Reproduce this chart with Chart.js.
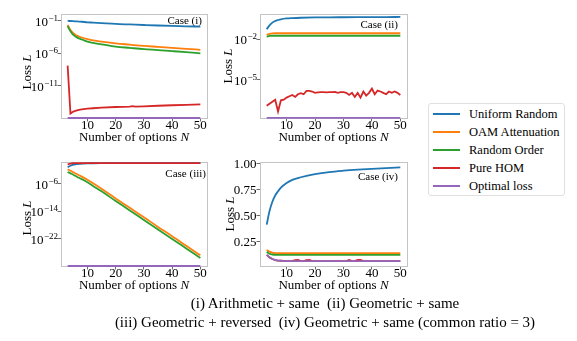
<!DOCTYPE html>
<html>
<head>
<meta charset="utf-8">
<script src="https://cdn.jsdelivr.net/npm/chart.js@4.4.0/dist/chart.umd.min.js"></script>
<style>
  body { margin: 0; background: #fff; width: 577px; height: 341px; position: relative; overflow: hidden;
         font-family: "Liberation Serif", "Times New Roman", serif; color: #000; }
  canvas { position: absolute; }
  #legend { position: absolute; left: 428px; top: 103px; width: 137px; height: 93px; box-sizing: border-box;
            border: 1px solid #e0e0e0; border-radius: 3px; padding-top: 1px; }
  #legend .item { height: 18px; line-height: 18px; font-size: 12.5px; white-space: nowrap; position: relative; padding-left: 40px; }
  #legend .sw { position: absolute; left: 4px; top: 8px; width: 27px; height: 2px; }
  #caption { position: absolute; left: 0; width: 650px; top: 294px; text-align: center; font-size: 15px; line-height: 19px; }
</style>
</head>
<body>
<canvas id="c1" width="215" height="150" style="left:0;top:0"></canvas>
<canvas id="c2" width="215" height="150" style="left:205px;top:0"></canvas>
<canvas id="c3" width="215" height="150" style="left:0;top:148px"></canvas>
<canvas id="c4" width="215" height="150" style="left:205px;top:148px"></canvas>
<div id="legend"></div>
<div id="caption">(i) Arithmetic + same&nbsp; (ii) Geometric + same<br>(iii) Geometric + reversed&nbsp; (iv) Geometric + same (common ratio = 3)</div>
<script>
// series
const seriesNames = ["Uniform Random", "OAM Attenuation", "Random Order", "Pure HOM", "Optimal loss"];
const seriesColors = ["#1f77b4", "#ff7f0e", "#2ca02c", "#d62728", "#9467bd"];
const xTicks = [10, 20, 30, 40, 50];

// number of options N
const nSmooth = [3, 4, 5, 6, 7, 8, 10, 12, 15, 20, 25, 30, 35, 40, 45, 50];
const nEnds = [3, 50];
const nAll = [3, 4, 5, 6, 7, 8, 9, 10, 11, 12, 13, 14, 15, 16, 17, 18, 19, 20, 21, 22, 23, 24, 25, 26,
  27, 28, 29, 30, 31, 32, 33, 34, 35, 36, 37, 38, 39, 40, 41, 42, 43, 44, 45, 46, 47, 48, 49, 50];

// Case (i)
const uniformI = [1.12e-1, 1.0e-1, 9.3e-2, 8.7e-2, 8.1e-2, 7.6e-2, 6.3e-2, 5.6e-2, 4.7e-2, 3.5e-2, 2.9e-2, 2.4e-2, 2.0e-2, 1.7e-2, 1.5e-2, 1.35e-2];
const oamI = [2.4e-2, 4e-3, 1.26e-3, 6.3e-4, 4e-4, 2.8e-4, 1.6e-4, 1e-4, 6.3e-5, 3.5e-5, 2.2e-5, 1.4e-5, 1e-5, 7e-6, 5e-6, 3.5e-6];
const randI = [1.7e-2, 2.5e-3, 7e-4, 3.5e-4, 2e-4, 1.4e-4, 6.3e-5, 4e-5, 2.5e-5, 1.1e-5, 7e-6, 4.5e-6, 3.2e-6, 2.2e-6, 1.5e-6, 1e-6];
const nHomI = [3, 4, 5, 6, 7, 8, 10, 12, 15, 20, 25, 26, 27, 30, 35, 40, 45, 50];
const homI = [1.26e-8, 5e-16, 1e-15, 1.4e-15, 1.8e-15, 2.2e-15, 2.8e-15, 3.2e-15, 4e-15, 5e-15, 5.6e-15, 7e-15, 5.8e-15, 6.3e-15, 7.9e-15, 9.3e-15, 1.1e-14, 1.26e-14];
const optI = [1e-16, 1e-16];

// Case (ii)
const uniformII = [5.5e-2, 1.05e-1, 1.66e-1, 2.2e-1, 2.6e-1, 2.95e-1, 3.4e-1, 3.6e-1, 3.8e-1, 4.0e-1, 4.1e-1, 4.15e-1, 4.2e-1, 4.25e-1, 4.3e-1, 4.35e-1];
const oamII = [2.1e-2, 2.5e-2, 2.7e-2, 2.75e-2, 2.75e-2, 2.75e-2, 2.75e-2, 2.75e-2, 2.75e-2, 2.75e-2, 2.75e-2, 2.75e-2, 2.75e-2, 2.75e-2, 2.75e-2, 2.75e-2];
const randII = [1.55e-2, 1.75e-2, 1.8e-2, 1.8e-2, 1.8e-2, 1.8e-2, 1.8e-2, 1.8e-2, 1.8e-2, 1.8e-2, 1.8e-2, 1.8e-2, 1.8e-2, 1.8e-2, 1.8e-2, 1.8e-2];
const homII = [1.26e-7, 1.78e-7, 2.5e-7, 3.5e-7, 4.8e-8, 3.2e-7, 3.5e-7, 5e-7, 6.3e-7, 7.9e-7, 5.6e-7, 8.9e-7,
  1.07e-6, 8.9e-7, 1.58e-6, 1.58e-6, 1.41e-6, 1.12e-6, 1.2e-6, 1.26e-6, 1.26e-6, 1.2e-6, 1.26e-6, 1.26e-6,
  1.32e-6, 1.12e-6, 1.26e-6, 1.26e-6, 1.12e-6, 7.9e-7, 1.12e-6, 5.6e-7, 1.12e-6, 5e-7, 1.41e-6, 7.1e-7,
  1.12e-6, 2.3e-6, 8.9e-7, 1.66e-6, 1.41e-6, 1.12e-6, 8.9e-7, 1.41e-6, 1.12e-6, 1.41e-6, 1.12e-6, 7.9e-7];
const optII = [1.6e-8, 1.6e-8];

// Case (iii)
const uniformIII = [6.3e-2, 0.16, 0.32, 0.45, 0.55, 0.63, 0.8, 0.86, 0.9, 0.93, 0.95, 0.95, 0.96, 0.96, 0.96, 0.96];
const oamIII = [1.45e-2, 5.6e-3, 2e-3, 7.9e-4, 2.8e-4, 1.1e-4, 1.4e-5, 1.26e-6, 3.2e-8, 5e-11, 8.9e-14, 1.6e-16, 2.5e-19, 5e-22, 7.9e-25, 1.26e-27];
const randIII = [2.5e-3, 1e-3, 4e-4, 1.4e-4, 5e-5, 2e-5, 2.5e-6, 2.2e-7, 5.6e-9, 8.9e-12, 1.6e-14, 2.5e-17, 4e-20, 7.9e-23, 1.26e-25, 2e-28];
const homIII = [0.4, 0.7, 0.9, 0.97, 0.99, 1, 1, 1, 1, 1, 1, 1, 1, 1, 1, 1];
const optIII = [1e-30, 1e-30];

// Case (iv)
const uniformIV = [0.41, 0.54, 0.63, 0.69, 0.73, 0.765, 0.81, 0.84, 0.865, 0.895, 0.915, 0.928, 0.938, 0.946, 0.953, 0.96];
const oamIV = [0.166, 0.15, 0.14, 0.137, 0.135, 0.135, 0.135, 0.135, 0.135, 0.135, 0.135, 0.135, 0.135, 0.135, 0.135, 0.135];
const randIV = [0.15, 0.13, 0.123, 0.12, 0.12, 0.12, 0.12, 0.12, 0.12, 0.12, 0.12, 0.12, 0.12, 0.12, 0.12, 0.12];
const nHomIV = [3, 4, 5, 6, 7, 8, 10, 12, 13, 14, 15, 16, 17, 18, 19, 20, 25, 30, 31, 32, 33, 34, 35, 36, 37, 40, 45, 50];
const homIV = [0.12, 0.095, 0.08, 0.07, 0.065, 0.063, 0.06, 0.06, 0.07, 0.072, 0.06, 0.06, 0.07, 0.072, 0.06, 0.06,
  0.06, 0.06, 0.06, 0.071, 0.06, 0.06, 0.07, 0.071, 0.06, 0.06, 0.06, 0.06];
const optIV = [0.12, 0.095, 0.08, 0.07, 0.065, 0.063, 0.06, 0.06, 0.06, 0.06, 0.06, 0.06, 0.06, 0.06, 0.06, 0.06];

const FONT = '"Liberation Serif", "Times New Roman", serif';

function pts(xs, ys) {
  return xs.map((x, i) => ({ x: x, y: ys[i] }));
}

// frame under the lines, then tick labels, axis titles and the "Case" tag on top
const decor = {
  id: "decor",
  beforeDatasetsDraw(chart) {
    const ctx = chart.ctx;
    const a = chart.chartArea;
    ctx.save();
    ctx.strokeStyle = "#c4c4c4";
    ctx.lineWidth = 1;
    ctx.strokeRect(Math.round(a.left) + 0.5, Math.round(a.top) + 0.5, Math.round(a.right - a.left), Math.round(a.bottom - a.top));
    ctx.restore();
  },
  afterDraw(chart, args, o) {
    const ctx = chart.ctx;
    const a = chart.chartArea;
    const sx = chart.scales.x, sy = chart.scales.y;
    ctx.save();
    ctx.fillStyle = "#000";
    ctx.textBaseline = "alphabetic";
    ctx.font = "13px " + FONT;
    ctx.textAlign = "center";
    sx.ticks.forEach(t => ctx.fillText(String(t.value), sx.getPixelForValue(t.value), a.bottom + 11));

    sy.ticks.forEach(t => {
      const py = sy.getPixelForValue(t.value);
      ctx.textAlign = "right";
      if (o.log) {
        const exp = "\u2212" + Math.abs(Math.round(Math.log10(t.value)));
        ctx.font = "9px " + FONT;
        const we = ctx.measureText(exp).width;
        ctx.fillText(exp, a.left - 3, py);
        ctx.font = "13px " + FONT;
        ctx.fillText("10", a.left - 3.5 - we, py + 5);
      } else {
        ctx.font = "13px " + FONT;
        ctx.fillText(t.value.toFixed(2), a.left - 3.5, py + 4.5);
      }
    });

    // x title
    ctx.font = "13px " + FONT;
    const w1 = ctx.measureText("Number of options ").width;
    ctx.font = "italic 13px " + FONT;
    const w2 = ctx.measureText("N").width;
    const x0 = (a.left + a.right) / 2 - (w1 + w2) / 2;
    ctx.textAlign = "left";
    ctx.font = "13px " + FONT;
    ctx.fillText("Number of options ", x0, a.bottom + 23);
    ctx.font = "italic 13px " + FONT;
    ctx.fillText("N", x0 + w1, a.bottom + 23);

    // y title
    ctx.save();
    ctx.translate(a.left - o.yTitleOff, (a.top + a.bottom) / 2 + o.yTitleShift);
    ctx.rotate(-Math.PI / 2);
    ctx.font = "13px " + FONT;
    const v1 = ctx.measureText("Loss ").width;
    ctx.font = "italic 13px " + FONT;
    const v2 = ctx.measureText("L").width;
    ctx.font = "13px " + FONT;
    ctx.fillText("Loss ", -(v1 + v2) / 2, 4.5);
    ctx.font = "italic 13px " + FONT;
    ctx.fillText("L", -(v1 + v2) / 2 + v1, 4.5);
    ctx.restore();

    // case tag
    ctx.font = "11px " + FONT;
    ctx.textAlign = "right";
    ctx.fillText(o.caseText, a.right - o.caseDx, a.top + o.caseDy);
    ctx.restore();
  }
};

function makeChart(id, sets, yScale, dec, leftW, rightPad) {
  const datasets = sets.map((s, i) => ({
    label: seriesNames[i],
    data: s.data,
    borderColor: seriesColors[i],
    backgroundColor: seriesColors[i],
    borderWidth: 1.8,
    pointRadius: 0,
    fill: false,
    tension: 0,
    cubicInterpolationMode: s.smooth ? "monotone" : "default",
    clip: i === 4 ? false : undefined,
    order: 5 - i
  }));
  const gridOpts = { display: true, drawOnChartArea: false, drawTicks: true, tickLength: 3.5, color: "#444", lineWidth: 0.8 };
  return new Chart(document.getElementById(id), {
    type: "line",
    data: { datasets: datasets },
    options: {
      responsive: false,
      animation: false,
      layout: { padding: { top: 14, right: rightPad, left: 0, bottom: 0 } },
      plugins: { legend: { display: false }, tooltip: { enabled: false }, decor: dec },
      scales: {
        x: {
          type: "linear", min: 0.65, max: 52.35,
          afterBuildTicks: s => { s.ticks = xTicks.map(v => ({ value: v })); },
          afterFit: s => { s.height = 32; },
          ticks: { display: false },
          grid: gridOpts,
          border: { display: false }
        },
        y: Object.assign({
          afterFit: s => { s.width = leftW; },
          ticks: { display: false },
          grid: gridOpts,
          border: { display: false }
        }, yScale)
      }
    },
    plugins: [decor]
  });
}

function fixedTicks(vals) {
  return s => { s.ticks = vals.map(v => ({ value: v })); };
}

makeChart("c1", [
  { data: pts(nSmooth, uniformI), smooth: true },
  { data: pts(nSmooth, oamI), smooth: true },
  { data: pts(nSmooth, randI), smooth: true },
  { data: pts(nHomI, homI), smooth: false },
  { data: pts(nEnds, optI), smooth: false }
], { type: "logarithmic", min: 1e-16, max: 1.2, afterBuildTicks: fixedTicks([1e-1, 1e-6, 1e-11]) },
  { log: true, caseText: "Case (i)", caseDx: 5, caseDy: 10, yTitleOff: 35, yTitleShift: 6 }, 61, 8);

makeChart("c2", [
  { data: pts(nSmooth, uniformII), smooth: true },
  { data: pts(nSmooth, oamII), smooth: true },
  { data: pts(nSmooth, randII), smooth: true },
  { data: pts(nAll, homII), smooth: false },
  { data: pts(nEnds, optII), smooth: false }
], { type: "logarithmic", min: 1.58e-8, max: 0.72, afterBuildTicks: fixedTicks([1e-2, 1e-5]) },
  { log: true, caseText: "Case (ii)", caseDx: 9, caseDy: 14, yTitleOff: 33, yTitleShift: 0 }, 55, 13);

makeChart("c3", [
  { data: pts(nSmooth, uniformIII), smooth: true },
  { data: pts(nSmooth, oamIII), smooth: true },
  { data: pts(nSmooth, randIII), smooth: true },
  { data: pts(nSmooth, homIII), smooth: true },
  { data: pts(nEnds, optIII), smooth: false }
], { type: "logarithmic", min: 1e-30, max: 2, afterBuildTicks: fixedTicks([1e-6, 1e-14, 1e-22]) },
  { log: true, caseText: "Case (iii)", caseDx: 1, caseDy: 15, yTitleOff: 35, yTitleShift: 4 }, 61, 8);

makeChart("c4", [
  { data: pts(nSmooth, uniformIV), smooth: true },
  { data: pts(nSmooth, oamIV), smooth: true },
  { data: pts(nSmooth, randIV), smooth: true },
  { data: pts(nHomIV, homIV), smooth: false },
  { data: pts(nSmooth, optIV), smooth: true }
], { type: "linear", min: 0.0125, max: 1.0115, afterBuildTicks: fixedTicks([0.25, 0.5, 0.75, 1.0]) },
  { log: false, caseText: "Case (iv)", caseDx: 9, caseDy: 18, yTitleOff: 31, yTitleShift: 0 }, 55, 13);

// legend
const legend = document.getElementById("legend");
seriesNames.forEach((name, i) => {
  const item = document.createElement("div");
  item.className = "item";
  item.innerHTML = '<span class="sw" style="background:' + seriesColors[i] + '"></span>' + name;
  legend.appendChild(item);
});
</script>
</body>
</html>
